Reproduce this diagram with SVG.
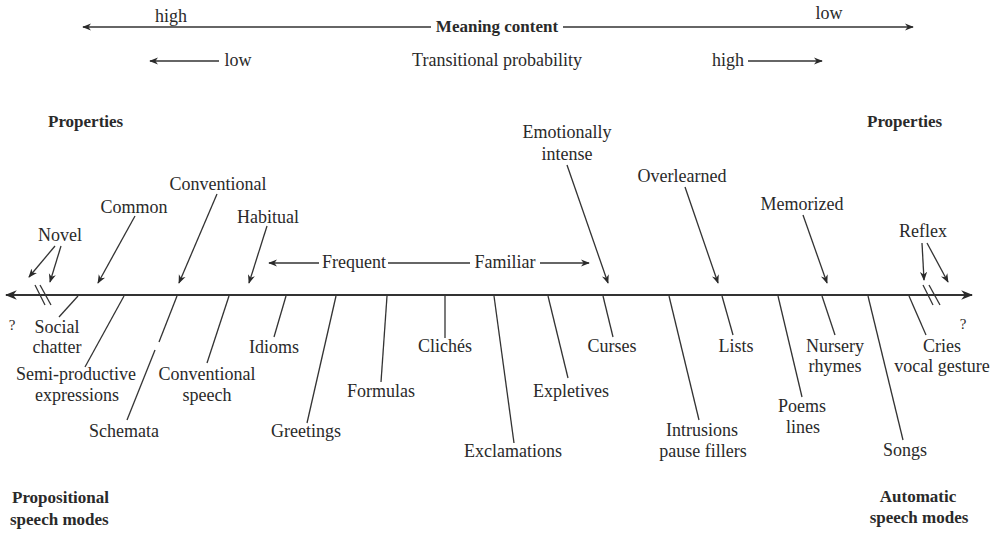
<svg xmlns="http://www.w3.org/2000/svg" width="1000" height="540" viewBox="0 0 1000 540">
<defs>
<marker id="ah" viewBox="0 0 10 10" refX="9" refY="5" markerWidth="9" markerHeight="9" markerUnits="userSpaceOnUse" orient="auto">
<path d="M0,1 L10,5 L0,9 L3,5 Z" fill="#2a2a2a"/>
</marker>
<marker id="ahb" viewBox="0 0 10 10" refX="9" refY="5" markerWidth="12" markerHeight="12" markerUnits="userSpaceOnUse" orient="auto">
<path d="M0,1 L10,5 L0,9 L3,5 Z" fill="#2a2a2a"/>
</marker>
</defs>
<style>
text{font-family:"Liberation Serif","Times New Roman",serif;font-size:18px;fill:#2a2a2a}
.b{font-weight:bold;font-size:17px}
.m{text-anchor:middle}
.ln{stroke:#333;stroke-width:1.3;fill:none}
.ar{stroke:#333;stroke-width:1.3;fill:none;marker-end:url(#ah)}
.ax{stroke:#333;stroke-width:2;fill:none;marker-end:url(#ahb)}
</style>
<rect width="1000" height="540" fill="#fff"/>

<g id="header">
<text x="171" y="22" class="m">high</text>
<text x="829" y="19" class="m">low</text>
<text x="497" y="32" class="b m">Meaning content</text>
<text x="238" y="66" class="m">low</text>
<text x="497" y="66" class="m">Transitional probability</text>
<text x="728" y="66" class="m">high</text>
<text x="48" y="127" class="b">Properties</text>
<text x="867" y="127" class="b">Properties</text>
<text x="12" y="503" class="b">Propositional</text>
<text x="10" y="525" class="b">speech modes</text>
<text x="918" y="502" class="b m">Automatic</text>
<text x="919" y="523" class="b m">speech modes</text>
<text x="12" y="330" class="m" style="font-size:15px">?</text>
<text x="963" y="329" class="m" style="font-size:15px">?</text>
</g>

<g id="properties">
<g id="novel"><text x="60" y="241" class="m">Novel</text></g>
<g id="common"><text x="134" y="213" class="m">Common</text></g>
<g id="conventional"><text x="218" y="190" class="m">Conventional</text></g>
<g id="habitual"><text x="268" y="223" class="m">Habitual</text></g>
<g id="frequent"><text x="354" y="268" class="m">Frequent</text></g>
<g id="familiar"><text x="505" y="268" class="m">Familiar</text></g>
<g id="emotional"><text x="567" y="138" class="m">Emotionally</text><text x="567" y="160" class="m">intense</text></g>
<g id="overlearned"><text x="682" y="182" class="m">Overlearned</text></g>
<g id="memorized"><text x="802" y="210" class="m">Memorized</text></g>
<g id="reflex"><text x="923" y="237" class="m">Reflex</text></g>
</g>

<g id="modes">
<g id="social"><text x="57" y="333" class="m">Social</text><text x="57" y="353" class="m">chatter</text></g>
<g id="semi"><text x="76" y="380" class="m">Semi-productive</text><text x="77" y="401" class="m">expressions</text></g>
<g id="schemata"><text x="124" y="437" class="m">Schemata</text></g>
<g id="convspeech"><text x="207" y="380" class="m">Conventional</text><text x="207" y="401" class="m">speech</text></g>
<g id="idioms"><text x="274" y="353" class="m">Idioms</text></g>
<g id="greetings"><text x="306" y="437" class="m">Greetings</text></g>
<g id="formulas"><text x="381" y="397" class="m">Formulas</text></g>
<g id="cliches"><text x="445" y="352" class="m">Clichés</text></g>
<g id="exclamations"><text x="513" y="457" class="m">Exclamations</text></g>
<g id="expletives"><text x="571" y="397" class="m">Expletives</text></g>
<g id="curses"><text x="612" y="352" class="m">Curses</text></g>
<g id="intrusions"><text x="702" y="436" class="m">Intrusions</text><text x="703" y="457" class="m">pause fillers</text></g>
<g id="lists"><text x="736" y="352" class="m">Lists</text></g>
<g id="poems"><text x="802" y="412" class="m">Poems</text><text x="803" y="433" class="m">lines</text></g>
<g id="nursery"><text x="835" y="352" class="m">Nursery</text><text x="835" y="372" class="m">rhymes</text></g>
<g id="songs"><text x="905" y="456" class="m">Songs</text></g>
<g id="cries"><text x="942" y="352" class="m">Cries</text><text x="942" y="372" class="m">vocal gesture</text></g>
</g>

<g id="connectors">
<!-- top scales -->
<line class="ar" x1="431" y1="27" x2="83" y2="27"/>
<line class="ar" x1="563" y1="27" x2="913" y2="27"/>
<line class="ar" x1="219" y1="61" x2="150" y2="61"/>
<line class="ar" x1="748" y1="61" x2="822" y2="61"/>
<!-- main axis -->
<line class="ax" x1="490" y1="295" x2="6" y2="295"/>
<line class="ax" x1="490" y1="295" x2="972" y2="295"/>
<line class="ln" x1="35" y1="285" x2="45" y2="305"/>
<line class="ln" x1="40" y1="285" x2="51" y2="305"/>
<line class="ln" x1="923" y1="285" x2="933" y2="305"/>
<line class="ln" x1="929" y1="285" x2="940" y2="305"/>
<!-- property arrows -->
<line class="ar" x1="55" y1="246" x2="29" y2="277"/>
<line class="ar" x1="61" y1="246" x2="50" y2="282"/>
<line class="ar" x1="135" y1="216" x2="98" y2="283"/>
<line class="ar" x1="217" y1="194" x2="179" y2="283"/>
<line class="ar" x1="267" y1="226" x2="249" y2="283"/>
<line class="ar" x1="319" y1="263" x2="269" y2="263"/>
<line class="ln" x1="388" y1="263" x2="470" y2="263"/>
<line class="ar" x1="540" y1="263" x2="589" y2="263"/>
<line class="ar" x1="567" y1="165" x2="608" y2="283"/>
<line class="ar" x1="685" y1="187" x2="718" y2="283"/>
<line class="ar" x1="803" y1="215" x2="827" y2="283"/>
<line class="ar" x1="922" y1="243" x2="924" y2="280"/>
<line class="ar" x1="927" y1="243" x2="948" y2="282"/>
<!-- mode ticks -->
<line class="ln" x1="78" y1="296" x2="59" y2="317"/>
<line class="ln" x1="124" y1="296" x2="85" y2="367"/>
<line class="ln" x1="177" y1="296" x2="159" y2="342"/>
<line class="ln" x1="155" y1="350" x2="127" y2="420"/>
<line class="ln" x1="229" y1="296" x2="207" y2="363"/>
<line class="ln" x1="286" y1="296" x2="274" y2="337"/>
<line class="ln" x1="336" y1="296" x2="307" y2="423"/>
<line class="ln" x1="387" y1="296" x2="381" y2="382"/>
<line class="ln" x1="445" y1="296" x2="445" y2="338"/>
<line class="ln" x1="494" y1="296" x2="514" y2="443"/>
<line class="ln" x1="548" y1="296" x2="568" y2="378"/>
<line class="ln" x1="603" y1="296" x2="613" y2="337"/>
<line class="ln" x1="669" y1="296" x2="699" y2="420"/>
<line class="ln" x1="722" y1="296" x2="733" y2="335"/>
<line class="ln" x1="778" y1="296" x2="802" y2="397"/>
<line class="ln" x1="822" y1="296" x2="835" y2="335"/>
<line class="ln" x1="868" y1="296" x2="903" y2="440"/>
<line class="ln" x1="909" y1="296" x2="926" y2="335"/>
</g>
</svg>
